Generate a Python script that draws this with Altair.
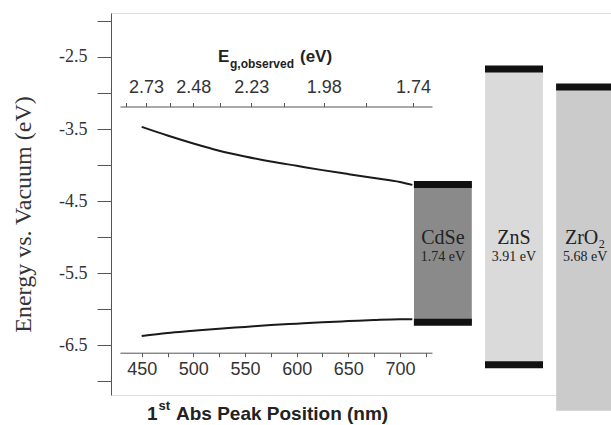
import altair as alt
import pandas as pd

# ---- data ----
peak_nm = [450, 475, 500, 525, 550, 575, 600, 625, 650, 675, 700, 712]
cb_curve = [-3.47, -3.59, -3.70, -3.80, -3.88, -3.95, -4.01, -4.07, -4.125, -4.18, -4.235, -4.275]
vb_curve = [-6.37, -6.33, -6.30, -6.27, -6.245, -6.22, -6.20, -6.18, -6.165, -6.15, -6.14, -6.14]

materials = ["CdSe", "ZnS", "ZrO\u2082"]
gap_text = ["1.74 eV", "3.91 eV", "5.68 eV"]
cb_level = [-4.268, -2.668, -2.916]
body_bottom = [-6.18, -6.77, -7.41]
vb_level = [-6.18, -6.77, None]
bar_colors = ["#8a8a8a", "#dadada", "#cbcbcb"]

nm_ticks = [450, 475, 500, 525, 550, 575, 600, 625, 650, 675, 700, 725]
eg_major = [2.73, 2.48, 2.23, 1.98, 1.74]
eg_minor = [2.85, 2.60, 2.36, 2.11, 1.86]
y_ticks = [-7.0, -6.5, -6.0, -5.5, -5.0, -4.5, -4.0, -3.5, -3.0, -2.5, -2.0]

# ---- tables ----
curves = pd.DataFrame({
    "nm": peak_nm * 2,
    "energy": cb_curve + vb_curve,
    "band": ["CB"] * len(peak_nm) + ["VB"] * len(peak_nm),
})
bars = pd.DataFrame({"material": materials, "top": cb_level, "bottom": body_bottom, "gap": gap_text})
caps = pd.DataFrame({"material": materials * 2, "level": cb_level + vb_level}).dropna()
top_ticks = pd.DataFrame({"nm": [1240.0 / e for e in eg_major + eg_minor]})

y_scale = alt.Scale(domain=[-7.19, -1.89], nice=False, zero=False)
y_axis = alt.Axis(
    values=y_ticks,
    labelExpr="abs(round(datum.value*2)) % 2 == 1 ? replace(datum.label, '\u2212', '-') : ''",
    title="Energy vs. Vacuum (eV)",
    titleFont="Liberation Serif", titleFontSize=24, titleFontWeight="normal",
    titleColor="#333", titleX=-88, titleY=201, titleAngle=-90,
    titleAlign="center", titleBaseline="middle",
    labelFont="Liberation Serif", labelFontSize=18, labelColor="#333",
    labelPadding=10, tickSize=14, tickColor="#555", domainColor="#555",
    grid=False,
)
nm_scale = alt.Scale(domain=[429, 731], range=[9, 321], nice=False, zero=False)

# ---- bars (band scale) ----
band = alt.Scale(domain=materials, range=[303, 503], paddingInner=0.187, paddingOuter=0)
xb = alt.X("material:N", scale=band, axis=None, sort=materials)
body = alt.Chart(bars).mark_bar(strokeWidth=0, opacity=1).encode(
    x=xb,
    y=alt.Y("top:Q", scale=y_scale, axis=y_axis),
    y2="bottom:Q",
    color=alt.Color("material:N", scale=alt.Scale(domain=materials, range=bar_colors), legend=None),
)
cap = alt.Chart(caps).mark_tick(color="#111", thickness=7, size=58, opacity=1).encode(
    x=xb, y=alt.Y("level:Q", scale=y_scale, axis=y_axis)
)
name_txt = alt.Chart(bars).mark_text(
    font="Liberation Serif", fontSize=20, color="#222", baseline="alphabetic"
).encode(x=xb, y=alt.value(231), text="material:N")
gap_txt = alt.Chart(bars).mark_text(
    font="Liberation Serif", fontSize=14, color="#222", baseline="alphabetic"
).encode(x=xb, y=alt.value(248), text="gap:N")
bar_layer = alt.layer(body, cap, name_txt, gap_txt)

# ---- curves with bottom nm axis ----
line = alt.Chart(curves).mark_line(color="#1a1a1a", strokeWidth=2, interpolate="monotone").encode(
    x=alt.X("nm:Q", scale=nm_scale, axis=alt.Axis(
        orient="bottom", values=nm_ticks, offset=-42.3, title=None,
        labelExpr="datum.value % 50 == 0 ? datum.label : ''",
        labelFont="Liberation Sans", labelFontSize=18, labelColor="#333",
        tickSize=4, labelPadding=4, tickColor="#555", domainColor="#555", grid=False,
    )),
    y=alt.Y("energy:Q", scale=y_scale, axis=y_axis),
    detail="band:N",
)

# ---- top Eg axis (same nm positions) ----
eg_list = ",".join(str(v) for v in eg_major)
top = alt.Chart(top_ticks).mark_point(opacity=0).encode(
    x=alt.X("nm:Q", scale=nm_scale, axis=alt.Axis(
        orient="top", values=list(top_ticks["nm"]), offset=-93.5, title=None,
        labelExpr=f"indexof([{eg_list}], round(124000/datum.value)/100) >= 0 ? format(1240/datum.value, '.2f') : ''",
        labelFont="Liberation Sans", labelFontSize=18, labelColor="#333",
        tickSize=4, labelPadding=6, tickColor="#555", domainColor="#555", grid=False,
    )),
)

# ---- axis titles with sub/superscripts ----
def piece(txt, x, y, size, align="left"):
    return alt.Chart(pd.DataFrame({"t": [txt]})).mark_text(
        font="Liberation Sans", fontWeight="bold", fontSize=size, color="#222",
        align=align, baseline="alphabetic",
    ).encode(x=alt.value(x), y=alt.value(y), text="t:N")

titles = alt.layer(
    piece("1", 46.5, 406.5, 19, "right"),
    piece("st", 47.5, 397, 13),
    piece("Abs Peak Position (nm)", 65, 406.5, 19),
    piece("E", 107, 48.7, 17),
    piece("g,observed", 119, 54.5, 12),
    piece("(eV)", 189, 48.7, 17),
)

chart = alt.layer(bar_layer, line, top, titles).resolve_scale(x="independent").properties(
    width=500, height=382, autosize="none",
    padding={"left": 111, "top": 13, "right": 0, "bottom": 30},
).configure_view(stroke=None).configure(background="white")

chart.save("out.html", embed_options={"renderer": "svg", "actions": False})
